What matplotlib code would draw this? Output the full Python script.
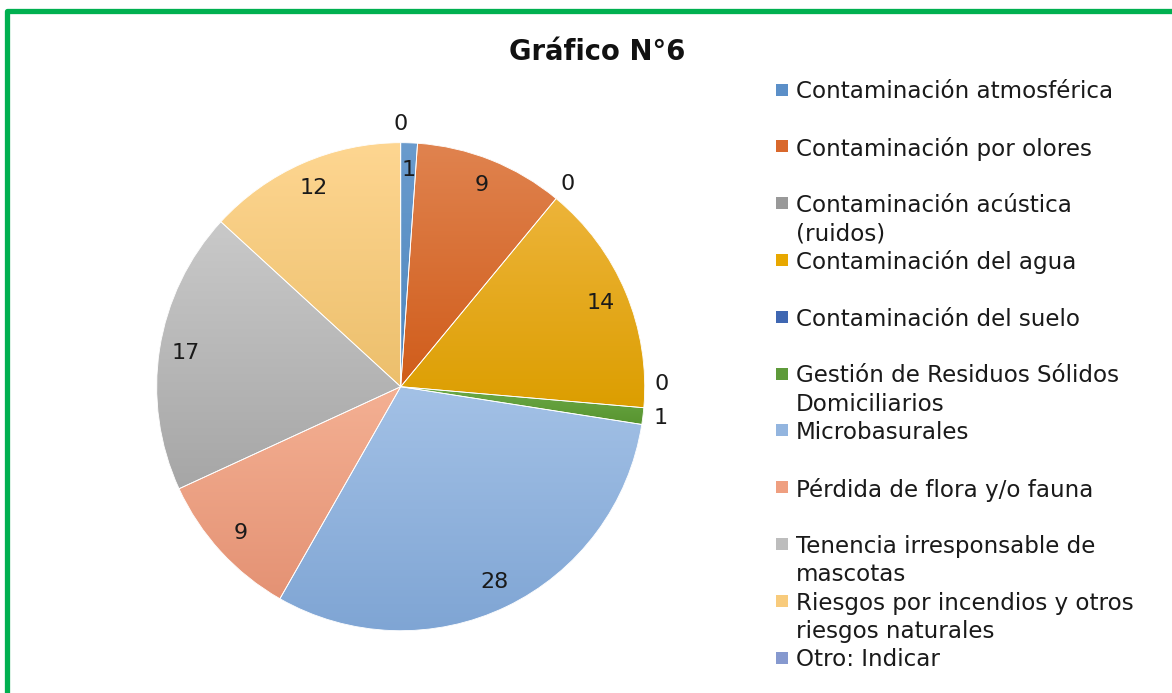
import numpy as np
import matplotlib
matplotlib.use("Agg")
import matplotlib.pyplot as plt
from matplotlib.patches import Rectangle, Wedge
from matplotlib.lines import Line2D
from matplotlib.colors import to_rgb

plt.rcParams['font.family'] = ['DejaVu Sans']

title = "Gráfico N°6"
categories = [
    "Contaminación atmosférica",
    "Contaminación por olores",
    "Contaminación acústica\n(ruidos)",
    "Contaminación del agua",
    "Contaminación del suelo",
    "Gestión de Residuos Sólidos\nDomiciliarios",
    "Microbasurales",
    "Pérdida de flora y/o fauna",
    "Tenencia irresponsable de\nmascotas",
    "Riesgos por incendios y otros\nriesgos naturales",
    "Otro: Indicar",
]
values = [1, 9, 0, 14, 0, 1, 28, 9, 17, 12, 0]
# where Excel's "best fit" put each data label
label_inside = [True, True, False, True, False, False, True, True, True, True, False]

top_colors = ["#6A9BCD", "#E0834F", "#B0B0B0", "#EDB43A", "#4F7CC8", "#6DA947",
              "#A3C1E6", "#F4B093", "#C9C9C9", "#FED691", "#95AEDD"]
bot_colors = ["#4E86BE", "#D05C1A", "#9A9A9A", "#DC9E00", "#3A64AF", "#589530",
              "#7FA5D4", "#E49274", "#A6A6A6", "#ECBF6C", "#7D96C8"]
legend_colors = ["#5B8FC8", "#D9682C", "#999999", "#E8A800", "#3F67B2", "#5E9A3A",
                 "#93B5DF", "#EF9F80", "#BDBDBD", "#F8CB7C", "#8699CF"]

W, H = 1172, 693
fig = plt.figure(figsize=(W / 100, H / 100), dpi=100, facecolor="white")

# green frame (top and left visible)
fig.add_artist(Line2D([6.5 / W, 6.5 / W, 1.01], [-0.01, 1 - 10.5 / H, 1 - 10.5 / H],
                      transform=fig.transFigure, color="#00B050", lw=3.8,
                      solid_joinstyle="round"))

# pie axes
cx, cy, R = 400.7, 386.7, 244
ax = fig.add_axes([(cx - R) / W, (H - cy - R) / H, 2 * R / W, 2 * R / H])
wedges, _ = ax.pie(values, startangle=90, counterclock=False, radius=1,
                   colors=legend_colors,
                   wedgeprops=dict(edgecolor="white", linewidth=0.6))
ax.set_aspect("auto")
ax.axis("off")

# vertical gradient fill per wedge
for w, tc, bc in zip(wedges, top_colors, bot_colors):
    if w.theta2 - w.theta1 <= 0:
        continue
    th = np.radians(np.linspace(w.theta1, w.theta2, 200))
    xs = np.concatenate([[0], np.cos(th)])
    ys = np.concatenate([[0], np.sin(th)])
    t = np.linspace(0, 1, 256)[:, None]
    grad = (1 - t) * np.array(to_rgb(tc)) + t * np.array(to_rgb(bc))
    im = ax.imshow(grad[:, None, :], extent=[xs.min(), xs.max(), ys.min(), ys.max()],
                   origin="upper", aspect="auto", zorder=1.5, interpolation="bilinear")
    im.set_clip_path(w)
    w.set_zorder(1)
    ax.add_patch(Wedge((0, 0), 1, w.theta1, w.theta2, facecolor="none",
                       edgecolor="white", linewidth=0.6, zorder=2))
ax.set_xlim(-1, 1)
ax.set_ylim(-1, 1)

# data labels
total = sum(values)
cum = 0
outside = []
lab_font = 16
for i, v in enumerate(values):
    mid = 90 - (cum + v / 2) / total * 360
    cum += v
    a = np.radians(mid)
    if label_inside[i]:
        r = 0.89
        ax.text(r * np.cos(a), r * np.sin(a), str(v), ha="center", va="center",
                fontsize=lab_font, color="#1a1a1a", zorder=5)
    else:
        r = 1.075
        outside.append([r * np.cos(a), r * np.sin(a), v])

# nudge outside labels that would collide
for k in range(len(outside) - 1):
    x0, y0, _ = outside[k]
    x1, y1, _ = outside[k + 1]
    if abs(x0 - x1) < 0.15 and abs(y0 - y1) < 0.14:
        outside[k][1] = y1 + 0.14
for x, y, v in outside:
    ax.text(x, y, str(v), ha="center", va="center", fontsize=lab_font, color="#1a1a1a",
            zorder=5)

# title
fig.text(597 / W, 1 - 52 / H, title, ha="center", va="center", fontsize=19.8,
         fontweight="bold", color="#111111")

# legend (manual)
leg_fs = 16.6
y0 = 89.5
step = 56.8
line_h = 28.5
for i, (lab, col) in enumerate(zip(categories, legend_colors)):
    y = y0 + i * step
    fig.add_artist(Rectangle((776 / W, 1 - (y + 6) / H), 12 / W, 12 / H,
                             transform=fig.transFigure, facecolor=col, edgecolor="none"))
    for j, ln in enumerate(lab.split("\n")):
        fig.text(796 / W, 1 - (y + j * line_h) / H, ln, ha="left", va="center_baseline",
                 fontsize=leg_fs, color="#1a1a1a")

fig.savefig("out.png", dpi=100, facecolor="white")
